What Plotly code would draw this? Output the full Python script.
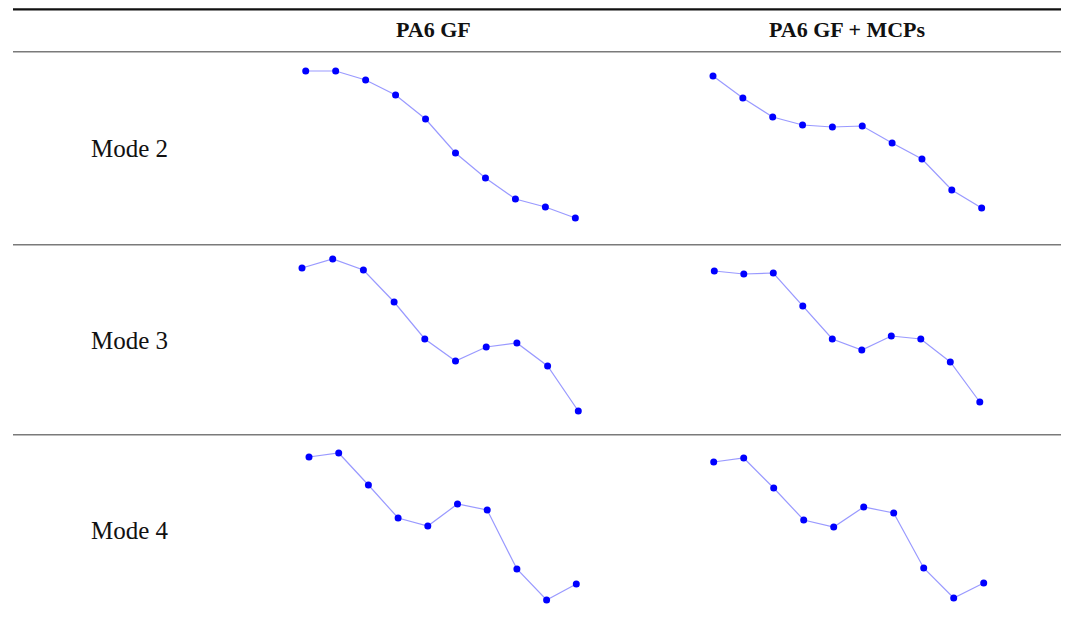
import plotly.graph_objects as go

# Column and row labels of the mode-shape table
materials = ["PA6 GF", "PA6 GF + MCPs"]
modes = ["Mode 2", "Mode 3", "Mode 4"]

# Measurement nodes along the specimen
nodes = [1, 2, 3, 4, 5, 6, 7, 8, 9, 10]

# Normalised modal displacement at each node
mode2_pa6gf = [0.77, 0.77, 0.68, 0.53, 0.29, -0.05, -0.30, -0.51, -0.59, -0.70]
mode2_mcps = [0.72, 0.50, 0.31, 0.23, 0.21, 0.22, 0.05, -0.11, -0.42, -0.60]
mode3_pa6gf = [0.71, 0.80, 0.69, 0.37, 0.00, -0.22, -0.08, -0.04, -0.27, -0.72]
mode3_mcps = [0.68, 0.65, 0.66, 0.33, 0.00, -0.11, 0.03, 0.00, -0.23, -0.63]
mode4_pa6gf = [0.72, 0.76, 0.44, 0.11, 0.03, 0.25, 0.19, -0.40, -0.71, -0.55]
mode4_mcps = [0.67, 0.71, 0.41, 0.09, 0.02, 0.22, 0.16, -0.39, -0.69, -0.54]

W, H = 1065, 621

# Table geometry (pixels)
row_centers = [148, 339, 529]
col_centers = [433, 847]
row_half = 85          # half-height of each plot cell
disp_half = 0.85       # displacement range shown in that half-height
# first-node pixel position and node spacing for each cell
cell_x = {
    (0, 0): (305.7, 29.96), (0, 1): (713.0, 29.85),
    (1, 0): (302.0, 30.7), (1, 1): (714.3, 29.5),
    (2, 0): (309.0, 29.7), (2, 1): (713.7, 30.0),
}
col_bands = [(285, 600), (695, 1005)]

series = [
    [mode2_pa6gf, mode2_mcps],
    [mode3_pa6gf, mode3_mcps],
    [mode4_pa6gf, mode4_mcps],
]


def px(x):
    return x / W


def py(y):
    return 1 - y / H


fig = go.Figure()
layout_axes = {}
k = 0
for r in range(3):
    for c in range(2):
        k += 1
        xa = "x" if k == 1 else f"x{k}"
        ya = "y" if k == 1 else f"y{k}"
        fig.add_trace(go.Scatter(
            x=nodes, y=series[r][c], xaxis=xa, yaxis=ya,
            mode="lines+markers",
            line=dict(color="rgba(70,70,255,0.55)", width=1.2),
            marker=dict(color="#0000ff", size=7),
            showlegend=False, hoverinfo="skip",
        ))
        left, right = col_bands[c]
        first, step = cell_x[(r, c)]
        x0 = nodes[0] - (first - left) / step
        x1 = x0 + (right - left) / step
        rc = row_centers[r]
        layout_axes["xaxis" if k == 1 else f"xaxis{k}"] = dict(
            domain=[px(left), px(right)], range=[x0, x1], visible=False,
            anchor=ya, fixedrange=True,
        )
        layout_axes["yaxis" if k == 1 else f"yaxis{k}"] = dict(
            domain=[py(rc + row_half), py(rc - row_half)],
            range=[-disp_half, disp_half], visible=False,
            anchor=xa, fixedrange=True,
        )

# Table rules
shapes = [
    dict(type="line", xref="paper", yref="paper", x0=px(13), x1=px(1061),
         y0=py(9.3), y1=py(9.3), line=dict(color="#111111", width=2.2)),
]
for yy in [51.8, 244.8, 434.8]:
    shapes.append(dict(type="line", xref="paper", yref="paper",
                       x0=px(13), x1=px(1061), y0=py(yy), y1=py(yy),
                       line=dict(color="#7a7a7a", width=1.6)))

serif = "Liberation Serif, Times New Roman, serif"
annotations = []
for name, cx in zip(materials, col_centers):
    annotations.append(dict(
        text=f"<b>{name}</b>", x=px(cx), y=py(30), xref="paper", yref="paper",
        showarrow=False, xanchor="center", yanchor="middle",
        font=dict(family=serif, size=22, color="#111111"),
    ))
for name, rc in zip(modes, row_centers):
    annotations.append(dict(
        text=name, x=px(89), y=py(rc + 1), xref="paper", yref="paper",
        showarrow=False, xanchor="left", yanchor="middle",
        font=dict(family=serif, size=25, color="#111111"),
    ))

fig.update_layout(
    width=W, height=H,
    margin=dict(l=0, r=0, t=0, b=0),
    paper_bgcolor="white", plot_bgcolor="white",
    shapes=shapes, annotations=annotations,
    **layout_axes,
)

fig.write_html("out.html", config={"displayModeBar": False})
